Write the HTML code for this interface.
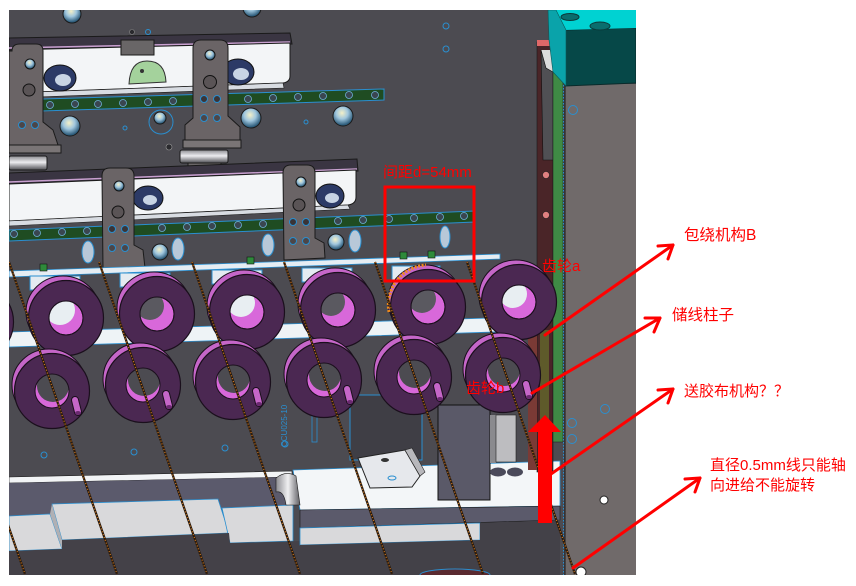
<!DOCTYPE html>
<html><head><meta charset="utf-8">
<style>
html,body{margin:0;padding:0;background:#fff;}
svg{display:block;}
text{font-family:"Liberation Sans","Noto Sans CJK SC",sans-serif;}
</style></head><body>
<svg width="856" height="586" viewBox="0 0 856 586" xmlns="http://www.w3.org/2000/svg">
<defs>
<clipPath id="cad"><rect x="9" y="10" width="627" height="565"/></clipPath>
<clipPath id="hole"><circle cx="0" cy="0" r="17"/></clipPath>
<linearGradient id="cyl" x1="0" y1="0" x2="0" y2="1"><stop offset="0" stop-color="#8d8d92"/><stop offset="0.45" stop-color="#ececef"/><stop offset="1" stop-color="#4d4d52"/></linearGradient>
<linearGradient id="cylh" x1="0" y1="0" x2="1" y2="0"><stop offset="0" stop-color="#8d8d92"/><stop offset="0.5" stop-color="#f0f0f2"/><stop offset="1" stop-color="#5d5d62"/></linearGradient>
<radialGradient id="lens" cx="0.45" cy="0.35" r="0.6"><stop offset="0" stop-color="#f4f0c8"/><stop offset="0.5" stop-color="#9fc6de"/><stop offset="1" stop-color="#2c5b7a"/></radialGradient>
</defs>
<rect width="856" height="586" fill="#fff"/>

<g clip-path="url(#cad)">
<rect x="9" y="10" width="627" height="565" fill="#4c4b51"/>

<circle cx="72" cy="14" r="9" fill="url(#lens)" stroke="#1a1a1a"/>
<circle cx="252" cy="8" r="9" fill="url(#lens)" stroke="#1a1a1a"/>
<circle cx="132" cy="32" r="2.5" fill="#2a2a2e" stroke="#888" stroke-width="0.6"/>
<circle cx="148" cy="32" r="2.5" fill="none" stroke="#2a8fd0"/>
<circle cx="446" cy="26" r="3" fill="none" stroke="#2a8fd0"/>
<circle cx="446" cy="49" r="3" fill="none" stroke="#2a8fd0"/>

<!-- frame bar 1 -->
<polygon points="9,38 290,33 292,44 9,50" fill="#3a3542" stroke="#1a1a1a"/>
<line x1="9" y1="48" x2="290" y2="42" stroke="#c9a0d0" stroke-width="1.5"/>
<path d="M9,50 L290,43 L290,76 Q290,82 283,83 L9,93 Z" fill="#f3f5f7" stroke="#1a1a1a"/>
<polygon points="9,93 283,83 284,88 9,98" fill="#d8dce2" stroke="#1a1a1a" stroke-width="0.6"/>
<ellipse cx="60" cy="78" rx="16" ry="13" fill="#2c3a66" stroke="#111"/>
<ellipse cx="63" cy="80" rx="8" ry="6" fill="#c8d4e4"/>
<ellipse cx="238" cy="72" rx="16" ry="13" fill="#2c3a66" stroke="#111"/>
<ellipse cx="241" cy="74" rx="8" ry="6" fill="#c8d4e4"/>
<path d="M129,84 Q130,61 147,61 Q165,61 166,82 Z" fill="#a4d29c" stroke="#333"/>
<circle cx="142" cy="71" r="2" fill="#333"/>
<rect x="121" y="40" width="33" height="15" fill="#696667" stroke="#1a1a1a"/>

<polygon points="9,100 384,89 384,100 9,112" fill="#1f4c22" stroke="#2a8fd0"/>
<g fill="#3a4650" stroke="#6fb0d8" stroke-width="0.8">
<circle cx="50" cy="105" r="3.5"/><circle cx="75" cy="104" r="3.5"/><circle cx="98" cy="104" r="3.5"/><circle cx="123" cy="103" r="3.5"/><circle cx="148" cy="102" r="3.5"/><circle cx="173" cy="101" r="3.5"/><circle cx="248" cy="99" r="3.5"/><circle cx="273" cy="98" r="3.5"/><circle cx="298" cy="97" r="3.5"/><circle cx="323" cy="96" r="3.5"/><circle cx="349" cy="95" r="3.5"/><circle cx="375" cy="95" r="3.5"/>
</g>

<circle cx="70" cy="126" r="10" fill="url(#lens)" stroke="#1a1a1a"/>
<circle cx="161" cy="122" r="12" fill="none" stroke="#2a8fd0"/>
<circle cx="160" cy="118" r="6" fill="url(#lens)" stroke="#1a1a1a"/>
<circle cx="251" cy="118" r="10" fill="url(#lens)" stroke="#1a1a1a"/>
<circle cx="343" cy="116" r="10" fill="url(#lens)" stroke="#1a1a1a"/>
<circle cx="169" cy="147" r="3" fill="#2a2a2e" stroke="#999" stroke-width="0.6"/>
<circle cx="125" cy="128" r="2" fill="none" stroke="#2a8fd0"/>
<circle cx="306" cy="122" r="2" fill="none" stroke="#2a8fd0"/>

<path d="M12,51 Q12,44 20,44 L36,44 Q43,44 43,51 L43,122 L53,130 L58,145 L9,145 L9,51 Z" fill="#6a6466" stroke="#1a1a1a"/>
<circle cx="30" cy="64" r="5" fill="url(#lens)" stroke="#111"/>
<circle cx="29" cy="90" r="6" fill="#5a5456" stroke="#111"/>
<circle cx="22" cy="125" r="3.5" fill="#4c4648" stroke="#2a8fd0"/>
<circle cx="35" cy="125" r="3.5" fill="#4c4648" stroke="#2a8fd0"/>
<rect x="9" y="145" width="52" height="8" fill="#7a7576" stroke="#1a1a1a"/>
<rect x="9" y="156" width="38" height="14" rx="2" fill="url(#cyl)" stroke="#1a1a1a"/>

<path d="M193,48 Q193,40 201,40 L220,40 Q228,40 228,48 L228,116 L240,127 L240,140 L185,140 L185,125 L193,118 Z" fill="#6a6466" stroke="#1a1a1a"/>
<circle cx="210" cy="55" r="5" fill="url(#lens)" stroke="#111"/>
<circle cx="210" cy="82" r="6.5" fill="#5a5456" stroke="#111"/>
<circle cx="204" cy="99" r="3.5" fill="#3a3436" stroke="#2a8fd0"/>
<circle cx="217" cy="99" r="3.5" fill="#3a3436" stroke="#2a8fd0"/>
<circle cx="204" cy="118" r="3.5" fill="#4c4648" stroke="#2a8fd0"/>
<circle cx="217" cy="118" r="3.5" fill="#4c4648" stroke="#2a8fd0"/>
<rect x="183" y="140" width="58" height="8" fill="#7a7576" stroke="#1a1a1a"/>
<rect x="180" y="150" width="48" height="13" rx="2" fill="url(#cyl)" stroke="#1a1a1a"/>
<rect x="188" y="163" width="33" height="16" fill="#6a6667" stroke="#1a1a1a"/>

<!-- frame bar 2 -->
<polygon points="9,173 357,159 358,171 9,184" fill="#3a3542" stroke="#1a1a1a"/>
<line x1="9" y1="182" x2="357" y2="169" stroke="#c9a0d0" stroke-width="1.5"/>
<path d="M9,184 L356,170 L356,197 Q356,204 348,205 L9,221 Z" fill="#f3f5f7" stroke="#1a1a1a"/>
<polygon points="9,221 348,205 350,209 9,226" fill="#d8dce2" stroke="#1a1a1a" stroke-width="0.6"/>
<ellipse cx="148" cy="198" rx="15" ry="12" fill="#2c3a66" stroke="#111"/>
<ellipse cx="150" cy="200" rx="7" ry="5" fill="#c8d4e4"/>
<ellipse cx="330" cy="196" rx="14" ry="12" fill="#2c3a66" stroke="#111"/>
<ellipse cx="332" cy="198" rx="7" ry="5" fill="#c8d4e4"/>

<polygon points="9,230 475,211 475,222 9,241" fill="#1f4c22" stroke="#2a8fd0"/>
<g fill="#3a4650" stroke="#6fb0d8" stroke-width="0.8">
<circle cx="14" cy="234" r="3.5"/><circle cx="37" cy="233" r="3.5"/><circle cx="62" cy="232" r="3.5"/><circle cx="87" cy="231" r="3.5"/><circle cx="162" cy="228" r="3.5"/><circle cx="187" cy="227" r="3.5"/><circle cx="212" cy="226" r="3.5"/><circle cx="238" cy="225" r="3.5"/><circle cx="263" cy="224" r="3.5"/><circle cx="338" cy="221" r="3.5"/><circle cx="363" cy="220" r="3.5"/><circle cx="389" cy="219" r="3.5"/><circle cx="414" cy="218" r="3.5"/><circle cx="440" cy="217" r="3.5"/><circle cx="464" cy="216" r="3.5"/>
</g>

<g fill="#b8c8d8" stroke="#2a8fd0" stroke-width="1">
<ellipse cx="88" cy="252" rx="6" ry="11"/><ellipse cx="178" cy="249" rx="6" ry="11"/><ellipse cx="268" cy="245" rx="6" ry="11"/><ellipse cx="355" cy="241" rx="6" ry="11"/><ellipse cx="445" cy="237" rx="5" ry="11"/>
</g>
<circle cx="160" cy="252" r="8" fill="url(#lens)" stroke="#1a1a1a"/>
<circle cx="336" cy="242" r="8" fill="url(#lens)" stroke="#1a1a1a"/>

<path d="M102,176 Q102,168 110,168 L126,168 Q134,168 134,176 L134,245 L143,250 L145,268 L103,268 Z" fill="#6a6466" stroke="#1a1a1a"/>
<circle cx="119" cy="186" r="5" fill="url(#lens)" stroke="#111"/>
<circle cx="118" cy="212" r="6" fill="#5a5456" stroke="#111"/>
<circle cx="112" cy="229" r="3.5" fill="#3a3436" stroke="#2a8fd0"/>
<circle cx="125" cy="229" r="3.5" fill="#3a3436" stroke="#2a8fd0"/>
<circle cx="112" cy="248" r="3.5" fill="#4c4648" stroke="#2a8fd0"/>
<circle cx="125" cy="248" r="3.5" fill="#4c4648" stroke="#2a8fd0"/>
<path d="M283,173 Q283,165 291,165 L307,165 Q315,165 315,173 L315,238 L324,243 L325,258 L284,260 Z" fill="#6a6466" stroke="#1a1a1a"/>
<circle cx="301" cy="182" r="5" fill="url(#lens)" stroke="#111"/>
<circle cx="299" cy="205" r="6" fill="#5a5456" stroke="#111"/>
<circle cx="293" cy="222" r="3.5" fill="#3a3436" stroke="#2a8fd0"/>
<circle cx="306" cy="222" r="3.5" fill="#3a3436" stroke="#2a8fd0"/>
<circle cx="293" cy="241" r="3.5" fill="#4c4648" stroke="#2a8fd0"/>
<circle cx="306" cy="241" r="3.5" fill="#4c4648" stroke="#2a8fd0"/>

<polygon points="9,271 500,254 500,259 9,277" fill="#e6edf3" stroke="#2a8fd0" stroke-width="0.8"/>
<g fill="#e4ebf1" stroke="#2a8fd0" stroke-width="1">
<rect x="30" y="276" width="50" height="14"/><rect x="120" y="273" width="50" height="14"/><rect x="212" y="270" width="50" height="14"/><rect x="302" y="268" width="50" height="14"/><rect x="392" y="266" width="48" height="14"/>
</g>
<g fill="#2e8a3a" stroke="#111" stroke-width="0.6">
<rect x="40" y="264" width="7" height="7"/><rect x="247" y="257" width="7" height="7"/><rect x="400" y="252" width="7" height="7"/><rect x="428" y="251" width="7" height="7"/>
</g>

<polygon points="9,332 560,316 560,330 9,347" fill="#eef3f6" stroke="#2a8fd0" stroke-width="0.8"/>

<!-- lower structure left -->
<polygon points="9,477 292,471 292,477 9,483" fill="#f2f4f6" stroke="#1a1a1a" stroke-width="0.6"/>
<polygon points="9,483 292,477 293,506 9,516" fill="#5b5a6c"/>
<polygon points="9,516 50,514 62,549 9,551" fill="#d9d9db" stroke="#2a8fd0" stroke-width="0.8"/>
<polygon points="52,504 218,499 229,533 62,540" fill="#d9d9db" stroke="#2a8fd0" stroke-width="0.8"/>
<polygon points="222,508 293,505 293,541 230,543" fill="#d9d9db" stroke="#2a8fd0" stroke-width="0.8"/>
<polygon points="50,514 52,504 62,540 62,549" fill="#b0b0b4"/>
<polygon points="9,551 62,549 62,540 229,533 230,543 300,541 300,575 9,575" fill="#444148"/>
<circle cx="44" cy="455" r="3" fill="none" stroke="#2a8fd0"/>
<circle cx="134" cy="452" r="3" fill="none" stroke="#2a8fd0"/>
<circle cx="225" cy="448" r="3" fill="none" stroke="#2a8fd0"/>
<circle cx="285" cy="444" r="3" fill="none" stroke="#2a8fd0"/>

<!-- lower structure right -->
<rect x="350" y="395" width="72" height="65" fill="#3f3e45" stroke="#2a8fd0"/>
<polygon points="293,470 560,461 560,506 300,510" fill="#f3f6f8" stroke="#2a8fd0" stroke-width="0.8"/>
<path d="M276,478 Q286,470 296,476 L300,505 L286,505 Q284,490 276,492 Z" fill="url(#cylh)" stroke="#1a1a1a" stroke-width="0.6"/>
<polygon points="300,510 560,506 560,520 300,528" fill="#5b5a6b" stroke="#1a1a1a" stroke-width="0.6"/>
<polygon points="300,528 480,523 480,540 300,545" fill="#d9d9db" stroke="#2a8fd0" stroke-width="0.8"/>
<polygon points="300,545 480,540 480,523 560,520 560,575 300,575" fill="#434148"/>
<rect x="438" y="405" width="52" height="95" fill="#5a5968" stroke="#111"/>
<rect x="490" y="415" width="6" height="48" fill="#8a8a8e"/>
<rect x="496" y="415" width="20" height="47" fill="#bdbdc0" stroke="#222" stroke-width="0.6"/>
<polygon points="358,458 405,450 420,476 412,487 370,488" fill="#e6e8ec" stroke="#222"/>
<polygon points="405,450 412,448 425,472 420,476" fill="#b8b8bc" stroke="#222" stroke-width="0.6"/>
<ellipse cx="385" cy="460" rx="4" ry="2" fill="#333"/>
<ellipse cx="392" cy="478" rx="4" ry="2" fill="none" stroke="#2a8fd0"/>
<ellipse cx="498" cy="472" rx="8" ry="4.5" fill="#4a4a5a"/>
<ellipse cx="515" cy="472" rx="8" ry="4.5" fill="#4a4a5a"/>
<rect x="312" y="410" width="5" height="32" fill="none" stroke="#2a8fd0" stroke-width="0.8"/>
<ellipse cx="455" cy="575" rx="35" ry="6" fill="#5a2a30" stroke="#2a8fd0"/>

<!-- right side -->
<rect x="537" y="42" width="16" height="430" fill="#4a2528" stroke="#1a1a1a" stroke-width="0.6"/>
<rect x="537" y="40" width="16" height="6" fill="#e06868"/>
<polygon points="541,50 553,50 553,72 546,68" fill="#dcdcdc"/>
<polygon points="541,50 546,68 553,72 553,160 543,160" fill="#505054" stroke="#111" stroke-width="0.6"/>
<circle cx="546" cy="175" r="3.5" fill="#e08080" stroke="#222" stroke-width="0.6"/>
<circle cx="546" cy="215" r="3.5" fill="#e08080" stroke="#222" stroke-width="0.6"/>
<rect x="528" y="330" width="9" height="140" fill="#7a3a35"/>
<rect x="540" y="330" width="9" height="140" fill="#5e5a2a"/>
<rect x="553" y="62" width="10" height="380" fill="#3f8a45" stroke="#1a1a1a" stroke-width="0.5"/>
<line x1="563.5" y1="85" x2="563.5" y2="575" stroke="#2a8fd0" stroke-dasharray="1.5 1.5"/>
<rect x="565" y="84" width="71" height="491" fill="#706a6a"/>
<line x1="565" y1="84" x2="565" y2="575" stroke="#1a1a1a"/>
<polygon points="565,30 636,28 636,83 565,86" fill="#064848" stroke="#0a2a2a"/>
<polygon points="548,10 636,10 636,28 565,30" fill="#00d2d2"/>
<polygon points="548,10 556,10 566,30 566,86 553,72 549,40" fill="#0aa3aa" stroke="#0a5a5a" stroke-width="0.6"/>
<ellipse cx="570" cy="17" rx="9" ry="3.5" fill="#0a6e6e" stroke="#0a3a3a"/>
<ellipse cx="600" cy="26" rx="10" ry="4" fill="#0a6e6e" stroke="#0a3a3a"/>
<circle cx="573" cy="110" r="4.5" fill="none" stroke="#2a8fd0"/>
<circle cx="605" cy="409" r="4.5" fill="none" stroke="#2a8fd0"/>
<circle cx="572" cy="423" r="4.5" fill="none" stroke="#2a8fd0"/>
<circle cx="572" cy="439" r="4.5" fill="none" stroke="#2a8fd0"/>
<circle cx="604" cy="500" r="4" fill="#fff" stroke="#222"/>
<circle cx="581" cy="572" r="5" fill="#fff" stroke="#222"/>

<!-- top row rings -->
<g transform="translate(-24 322)"><ellipse cx="-3" cy="-6" rx="37" ry="36" fill="#c566c8" stroke="#1a0f1c"/><circle r="37.5" fill="#4b2852" stroke="#1a0f1c" stroke-width="1.2"/></g>
<g transform="translate(66 318)"><ellipse cx="-3" cy="-6" rx="37" ry="36" fill="#c566c8" stroke="#1a0f1c"/><circle r="37.5" fill="#4b2852" stroke="#1a0f1c" stroke-width="1.2"/><circle r="17" fill="#d868da" stroke="#1a0f1c"/><circle cx="-6" cy="-8" r="15" fill="#e8eef2" clip-path="url(#hole)"/><circle r="17" fill="none" stroke="#1a0f1c"/></g>
<g transform="translate(157 314)"><ellipse cx="-3" cy="-6" rx="37" ry="36" fill="#c566c8" stroke="#1a0f1c"/><circle r="37.5" fill="#4b2852" stroke="#1a0f1c" stroke-width="1.2"/><circle r="17" fill="#d868da" stroke="#1a0f1c"/><circle cx="-7" cy="-8" r="14" fill="#5a5960" clip-path="url(#hole)"/><circle r="17" fill="none" stroke="#1a0f1c"/></g>
<g transform="translate(247 312)"><ellipse cx="-3" cy="-6" rx="37" ry="36" fill="#c566c8" stroke="#1a0f1c"/><circle r="37.5" fill="#4b2852" stroke="#1a0f1c" stroke-width="1.2"/><circle r="17" fill="#d868da" stroke="#1a0f1c"/><circle cx="-6" cy="-9" r="14" fill="#e8eef2" clip-path="url(#hole)"/><circle r="17" fill="none" stroke="#1a0f1c"/></g>
<g transform="translate(338 310)"><ellipse cx="-3" cy="-6" rx="37" ry="36" fill="#c566c8" stroke="#1a0f1c"/><circle r="37.5" fill="#4b2852" stroke="#1a0f1c" stroke-width="1.2"/><circle r="17" fill="#d868da" stroke="#1a0f1c"/><circle cx="-7" cy="-8" r="14" fill="#5a5960" clip-path="url(#hole)"/><circle r="17" fill="none" stroke="#1a0f1c"/></g>
<g transform="translate(428 307)"><ellipse cx="-3" cy="-6" rx="37" ry="36" fill="#c566c8" stroke="#1a0f1c"/><circle r="37.5" fill="#4b2852" stroke="#1a0f1c" stroke-width="1.2"/><circle r="17" fill="#d868da" stroke="#1a0f1c"/><circle cx="-6" cy="-8" r="14" fill="#5a5960" clip-path="url(#hole)"/><circle r="17" fill="none" stroke="#1a0f1c"/></g>
<g transform="translate(519 302)"><ellipse cx="-3" cy="-6" rx="37" ry="36" fill="#c566c8" stroke="#1a0f1c"/><circle r="37.5" fill="#4b2852" stroke="#1a0f1c" stroke-width="1.2"/><circle r="17" fill="#d868da" stroke="#1a0f1c"/><circle cx="-6" cy="-8" r="14" fill="#e8eef2" clip-path="url(#hole)"/><circle r="17" fill="none" stroke="#1a0f1c"/></g>
<path d="M389,312 A40,40 0 0 1 426,265" fill="none" stroke="#f08a1a" stroke-width="3" stroke-dasharray="2 1.5"/>

<!-- bottom row rings -->
<g transform="translate(-38 396)"><ellipse cx="-3" cy="-6" rx="37" ry="36" fill="#c566c8" stroke="#1a0f1c"/><circle r="37.5" fill="#4b2852" stroke="#1a0f1c" stroke-width="1.2"/></g>
<g transform="translate(52 391)"><ellipse cx="-3" cy="-6" rx="37" ry="36" fill="#c566c8" stroke="#1a0f1c"/><circle r="37.5" fill="#4b2852" stroke="#1a0f1c" stroke-width="1.2"/><circle r="17" fill="#d868da"/><circle cx="1" cy="-5" r="16" fill="#4c4b51" clip-path="url(#hole)"/><circle r="17" fill="none" stroke="#1a0f1c"/><line x1="23" y1="9" x2="26" y2="21" stroke="#1a0f1c" stroke-width="8" stroke-linecap="round"/><line x1="23" y1="9" x2="26" y2="21" stroke="#c566c8" stroke-width="6" stroke-linecap="round"/><ellipse cx="26" cy="22" rx="3" ry="2" fill="#6a2a70"/></g>
<g transform="translate(143 385)"><ellipse cx="-3" cy="-6" rx="37" ry="36" fill="#c566c8" stroke="#1a0f1c"/><circle r="37.5" fill="#4b2852" stroke="#1a0f1c" stroke-width="1.2"/><circle r="17" fill="#d868da"/><circle cx="1" cy="-5" r="16" fill="#4c4b51" clip-path="url(#hole)"/><circle r="17" fill="none" stroke="#1a0f1c"/><line x1="23" y1="9" x2="26" y2="21" stroke="#1a0f1c" stroke-width="8" stroke-linecap="round"/><line x1="23" y1="9" x2="26" y2="21" stroke="#c566c8" stroke-width="6" stroke-linecap="round"/><ellipse cx="26" cy="22" rx="3" ry="2" fill="#6a2a70"/></g>
<g transform="translate(233 382)"><ellipse cx="-3" cy="-6" rx="37" ry="36" fill="#c566c8" stroke="#1a0f1c"/><circle r="37.5" fill="#4b2852" stroke="#1a0f1c" stroke-width="1.2"/><circle r="17" fill="#d868da"/><circle cx="1" cy="-5" r="16" fill="#4c4b51" clip-path="url(#hole)"/><circle r="17" fill="none" stroke="#1a0f1c"/><line x1="23" y1="9" x2="26" y2="21" stroke="#1a0f1c" stroke-width="8" stroke-linecap="round"/><line x1="23" y1="9" x2="26" y2="21" stroke="#c566c8" stroke-width="6" stroke-linecap="round"/><ellipse cx="26" cy="22" rx="3" ry="2" fill="#6a2a70"/></g>
<g transform="translate(324 380)"><ellipse cx="-3" cy="-6" rx="37" ry="36" fill="#c566c8" stroke="#1a0f1c"/><circle r="37.5" fill="#4b2852" stroke="#1a0f1c" stroke-width="1.2"/><circle r="17" fill="#d868da"/><circle cx="1" cy="-5" r="16" fill="#4c4b51" clip-path="url(#hole)"/><circle r="17" fill="none" stroke="#1a0f1c"/><line x1="23" y1="9" x2="26" y2="21" stroke="#1a0f1c" stroke-width="8" stroke-linecap="round"/><line x1="23" y1="9" x2="26" y2="21" stroke="#c566c8" stroke-width="6" stroke-linecap="round"/><ellipse cx="26" cy="22" rx="3" ry="2" fill="#6a2a70"/></g>
<g transform="translate(414 377)"><ellipse cx="-3" cy="-6" rx="37" ry="36" fill="#c566c8" stroke="#1a0f1c"/><circle r="37.5" fill="#4b2852" stroke="#1a0f1c" stroke-width="1.2"/><circle r="17" fill="#d868da"/><circle cx="1" cy="-5" r="16" fill="#4c4b51" clip-path="url(#hole)"/><circle r="17" fill="none" stroke="#1a0f1c"/><line x1="23" y1="9" x2="26" y2="21" stroke="#1a0f1c" stroke-width="8" stroke-linecap="round"/><line x1="23" y1="9" x2="26" y2="21" stroke="#c566c8" stroke-width="6" stroke-linecap="round"/><ellipse cx="26" cy="22" rx="3" ry="2" fill="#6a2a70"/></g>
<g transform="translate(503 375)"><ellipse cx="-3" cy="-6" rx="37" ry="36" fill="#c566c8" stroke="#1a0f1c"/><circle r="37.5" fill="#4b2852" stroke="#1a0f1c" stroke-width="1.2"/><circle r="17" fill="#d868da"/><circle cx="1" cy="-5" r="16" fill="#4c4b51" clip-path="url(#hole)"/><circle r="17" fill="none" stroke="#1a0f1c"/><line x1="23" y1="9" x2="26" y2="21" stroke="#1a0f1c" stroke-width="8" stroke-linecap="round"/><line x1="23" y1="9" x2="26" y2="21" stroke="#c566c8" stroke-width="6" stroke-linecap="round"/><ellipse cx="26" cy="22" rx="3" ry="2" fill="#6a2a70"/></g>

<text x="287" y="447" transform="rotate(-90 287 447)" font-size="8" fill="#2a8fd0">CCU025-10</text>

<!-- wires -->
<g fill="none">
<g stroke="#2a1a0c" stroke-width="2.2">
<line x1="-83" y1="262" x2="25" y2="574"/><line x1="9" y1="262" x2="117" y2="574"/><line x1="99" y1="262" x2="207" y2="574"/><line x1="192" y1="262" x2="300" y2="574"/><line x1="284" y1="262" x2="392" y2="574"/><line x1="375" y1="262" x2="483" y2="574"/><line x1="467" y1="262" x2="575" y2="574"/>
</g>
<g stroke="#d07a22" stroke-width="1.2" stroke-dasharray="1 2">
<line x1="-83" y1="262" x2="25" y2="574"/><line x1="9" y1="262" x2="117" y2="574"/><line x1="99" y1="262" x2="207" y2="574"/><line x1="192" y1="262" x2="300" y2="574"/><line x1="284" y1="262" x2="392" y2="574"/><line x1="375" y1="262" x2="483" y2="574"/><line x1="467" y1="262" x2="575" y2="574"/>
</g>
</g>
</g>

<!-- annotations -->
<rect x="385" y="187" width="89" height="94" fill="none" stroke="#ff0000" stroke-width="3"/>
<text x="383" y="177" font-size="15" fill="#ff0000">间距d=54mm</text>
<text x="542" y="271" font-size="15" fill="#ff0000">齿轮a</text>
<text x="466" y="393" font-size="15" fill="#ff0000">齿轮b</text>

<polygon points="538,432 528,432 545,415 561,432 552,432 552,523 538,523" fill="#ff0000"/>

<g stroke="#ff0000" stroke-width="3" fill="none" stroke-linecap="round" stroke-linejoin="round">
<line x1="545" y1="335" x2="673" y2="245"/><polyline points="658,246 673,245 668,259"/>
<line x1="532" y1="393" x2="660" y2="318"/><polyline points="645,318 660,318 654,332"/>
<line x1="551" y1="474" x2="673" y2="389"/><polyline points="658,390 673,389 668,403"/>
<line x1="573" y1="568" x2="700" y2="478"/><polyline points="685,479 700,478 695,492"/>
</g>

<text x="684" y="240" font-size="15.5" fill="#ff0000">包绕机构B</text>
<text x="672" y="320" font-size="15.5" fill="#ff0000">储线柱子</text>
<text x="684" y="396" font-size="15" fill="#ff0000">送胶布机构<tspan style="font-family:'Noto Sans CJK SC',sans-serif">？？</tspan></text>
<text x="710" y="470" font-size="15" fill="#ff0000">直径0.5mm线只能轴</text>
<text x="710" y="490" font-size="15" fill="#ff0000">向进给不能旋转</text>
</svg>
</body></html>
